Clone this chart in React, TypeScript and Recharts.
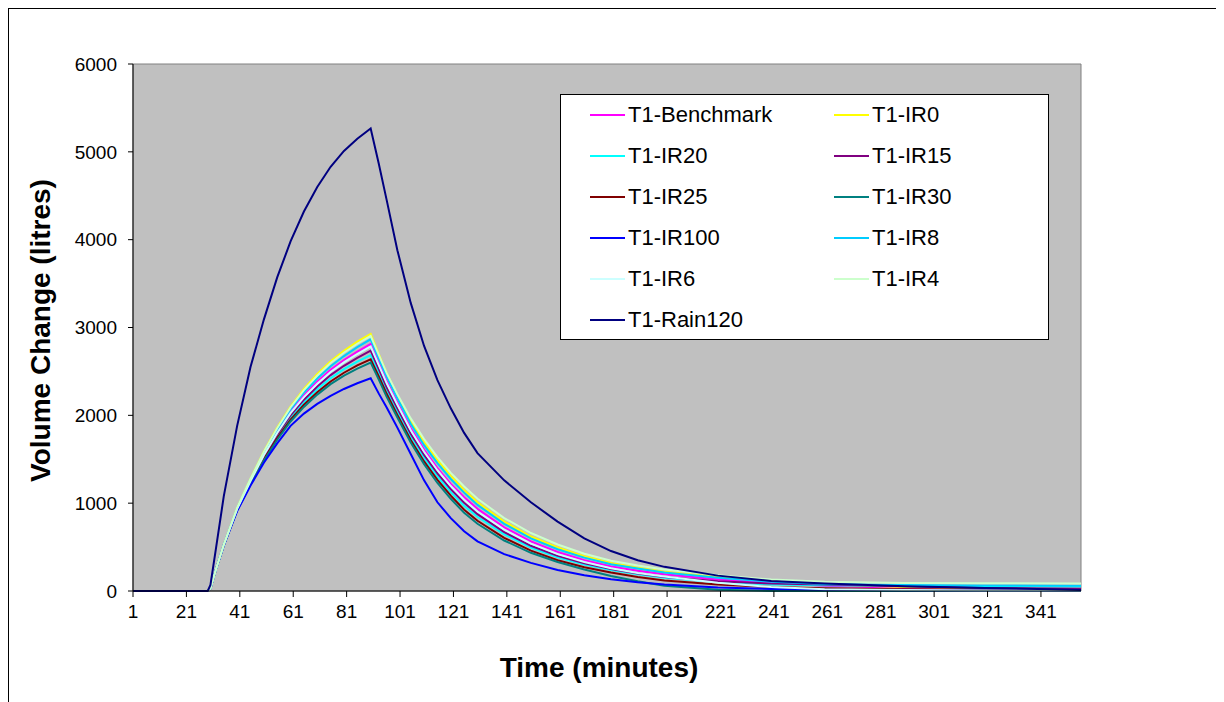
import React from 'react';
import { LineChart, Line, XAxis, YAxis, ReferenceArea, Legend, Label } from 'recharts';

// sample times (minutes) the curves were read at
const minutes = [1, 29, 30, 32, 35, 40, 45, 50, 55, 60, 65, 70, 75, 80, 85, 90, 93, 96, 100, 105, 110, 115, 120, 125, 130, 140, 150, 160, 170, 180, 190, 200, 220, 240, 260, 290, 320, 356];

const benchmark = [0, 0, 30, 240, 527, 940, 1260, 1555, 1812, 2040, 2226, 2382, 2518, 2630, 2726, 2812,
  2600, 2390, 2145, 1855, 1610, 1400, 1220, 1068, 935, 725, 565, 445, 350, 280, 230, 190, 130, 90, 60, 35, 22, 15];
const ir0 = [0, 0, 30, 240, 530, 950, 1280, 1590, 1860, 2100, 2300, 2470, 2615, 2735, 2840, 2926,
  2700, 2480, 2230, 1940, 1700, 1490, 1310, 1150, 1010, 790, 620, 495, 395, 320, 265, 220, 160, 115, 75, 45, 30, 20];
const ir20 = [0, 0, 30, 240, 524, 928, 1232, 1515, 1760, 1975, 2150, 2296, 2422, 2526, 2612, 2687,
  2490, 2285, 2045, 1760, 1515, 1305, 1125, 970, 845, 645, 495, 385, 300, 238, 190, 150, 100, 75, 65, 58, 55, 52];
const ir15 = [0, 0, 30, 240, 525, 932, 1242, 1530, 1780, 2000, 2178, 2328, 2458, 2564, 2655, 2736,
  2530, 2320, 2080, 1790, 1550, 1340, 1160, 1005, 875, 670, 515, 400, 315, 250, 200, 160, 110, 85, 75, 55, 35, 25];
const ir25 = [0, 0, 30, 240, 523, 924, 1222, 1500, 1740, 1950, 2120, 2262, 2385, 2485, 2568, 2638,
  2445, 2245, 2005, 1720, 1475, 1265, 1085, 925, 800, 605, 460, 350, 270, 210, 160, 120, 75, 45, 30, 20, 15, 12];
const ir30 = [0, 0, 30, 240, 522, 920, 1212, 1485, 1722, 1930, 2096, 2236, 2355, 2452, 2532, 2600,
  2410, 2210, 1975, 1690, 1445, 1230, 1050, 890, 765, 575, 435, 330, 245, 170, 110, 60, 15, 0, 0, 0, 0, 0];
const ir100 = [0, 0, 30, 240, 520, 910, 1200, 1460, 1680, 1880, 2020, 2130, 2222, 2300, 2365, 2421,
  2250, 2090, 1860, 1560, 1260, 1010, 830, 680, 565, 420, 320, 240, 180, 135, 100, 75, 40, 22, 14, 9, 6, 5];
const ir8 = [0, 0, 30, 240, 528, 944, 1270, 1572, 1835, 2068, 2260, 2420, 2560, 2675, 2776, 2866,
  2650, 2440, 2195, 1905, 1660, 1455, 1275, 1120, 980, 765, 600, 475, 380, 305, 255, 210, 150, 105, 80, 68, 62, 60];
const ir6 = [0, 0, 30, 240, 526, 936, 1252, 1545, 1799, 2024, 2207, 2360, 2494, 2603, 2698, 2785,
  2575, 2365, 2120, 1830, 1585, 1375, 1195, 1040, 905, 700, 540, 420, 330, 260, 205, 165, 95, 45, 20, 10, 6, 5];
const ir4 = [0, 0, 30, 240, 530, 948, 1278, 1585, 1852, 2090, 2287, 2452, 2595, 2712, 2815, 2903,
  2690, 2480, 2240, 1965, 1730, 1525, 1345, 1190, 1050, 830, 660, 530, 425, 345, 290, 245, 180, 130, 105, 92, 88, 86];
const rain120 = [0, 0, 70, 470, 1080, 1880, 2550, 3090, 3570, 3980, 4320, 4600, 4830, 5010, 5150, 5265,
  4870, 4450, 3880, 3280, 2790, 2400, 2080, 1800, 1570, 1260, 1010, 790, 600, 455, 350, 275, 175, 115, 85, 55, 35, 12];

const xTicks = [1, 21, 41, 61, 81, 101, 121, 141, 161, 181, 201, 221, 241, 261, 281, 301, 321, 341];
const yTicks = [0, 1000, 2000, 3000, 4000, 5000, 6000];

const seriesList = [
  { key: 'benchmark', name: 'T1-Benchmark', color: '#FF00FF', values: benchmark },
  { key: 'ir0', name: 'T1-IR0', color: '#FFFF00', values: ir0 },
  { key: 'ir20', name: 'T1-IR20', color: '#00FFFF', values: ir20 },
  { key: 'ir15', name: 'T1-IR15', color: '#800080', values: ir15 },
  { key: 'ir25', name: 'T1-IR25', color: '#800000', values: ir25 },
  { key: 'ir30', name: 'T1-IR30', color: '#008080', values: ir30 },
  { key: 'ir100', name: 'T1-IR100', color: '#0000FF', values: ir100 },
  { key: 'ir8', name: 'T1-IR8', color: '#00CCFF', values: ir8 },
  { key: 'ir6', name: 'T1-IR6', color: '#CCFFFF', values: ir6 },
  { key: 'ir4', name: 'T1-IR4', color: '#CCFFCC', values: ir4 },
  { key: 'rain120', name: 'T1-Rain120', color: '#000080', values: rain120 },
];

const data = minutes.map((t, i) => {
  const row: Record<string, number> = { t };
  seriesList.forEach((s) => {
    row[s.key] = s.values[i];
  });
  return row;
});

const FONT = '"Liberation Sans", Arial, sans-serif';

const LegendBox = () => (
  <div
    style={{
      width: 489,
      height: 246,
      boxSizing: 'border-box',
      border: '1px solid #000',
      background: '#fff',
      position: 'relative',
      fontFamily: FONT,
      fontSize: 22,
      color: '#000',
    }}
  >
    {seriesList.map((s, i) => (
      <div
        key={s.key}
        style={{
          position: 'absolute',
          left: i % 2 === 0 ? 29 : 273,
          top: -1 + Math.floor(i / 2) * 41,
          height: 41,
          display: 'flex',
          alignItems: 'center',
          whiteSpace: 'nowrap',
        }}
      >
        <span style={{ display: 'inline-block', width: 35, height: 2, background: s.color, marginRight: 3 }} />
        <span>{s.name}</span>
      </div>
    ))}
  </div>
);

const XTitle = (props: any) => {
  const vb = props.viewBox || { x: 124, y: 582, width: 948, height: 30 };
  return (
    <text x={vb.x + vb.width / 2 - 8} y={vb.y + 86} textAnchor="middle" fontSize={28} fontWeight="bold" fill="#000">
      Time (minutes)
    </text>
  );
};

const YTitle = (props: any) => {
  const vb = props.viewBox || { x: 4, y: 55, width: 120, height: 527 };
  const cy = vb.y + vb.height / 2 + 3;
  return (
    <text transform={`translate(${vb.x + 37}, ${cy}) rotate(-90)`} textAnchor="middle" fontSize={28} fontWeight="bold" fill="#000">
      Volume Change (litres)
    </text>
  );
};

export default function App() {
  return (
    <div style={{ width: 1207, height: 700, border: '1px solid #000', background: '#fff', fontFamily: FONT }}>
      <LineChart width={1207} height={692} data={data} margin={{ top: 55, right: 135, bottom: 80, left: 4 }}>
        <ReferenceArea x1={1} x2={356} y1={0} y2={6000} fill="#C0C0C0" fillOpacity={1} stroke="#808080" strokeWidth={1} />
        <XAxis
          dataKey="t"
          type="number"
          domain={[1, 356]}
          ticks={xTicks}
          interval={0}
          allowDataOverflow
          height={30}
          tick={{ fill: '#000', fontSize: 19 }}
          tickLine={{ stroke: '#000' }}
          axisLine={{ stroke: '#000' }}
          tickSize={6}
          tickMargin={8}
        >
          <Label content={XTitle} />
        </XAxis>
        <YAxis
          type="number"
          domain={[0, 6000]}
          ticks={yTicks}
          interval={0}
          width={120}
          tick={{ fill: '#000', fontSize: 19 }}
          tickLine={{ stroke: '#000' }}
          axisLine={{ stroke: '#000' }}
          tickSize={5}
          tickMargin={11}
        >
          <Label content={YTitle} />
        </YAxis>
        <Legend
          layout="horizontal"
          verticalAlign="middle"
          align="center"
          wrapperStyle={{ left: 551, top: 85, width: 489, height: 246 }}
          content={() => <LegendBox />}
        />
        {seriesList.map((s) => (
          <Line
            key={s.key}
            type="linear"
            dataKey={s.key}
            name={s.name}
            stroke={s.color}
            strokeWidth={2}
            dot={false}
            activeDot={false}
            isAnimationActive={false}
          />
        ))}
      </LineChart>
    </div>
  );
}
